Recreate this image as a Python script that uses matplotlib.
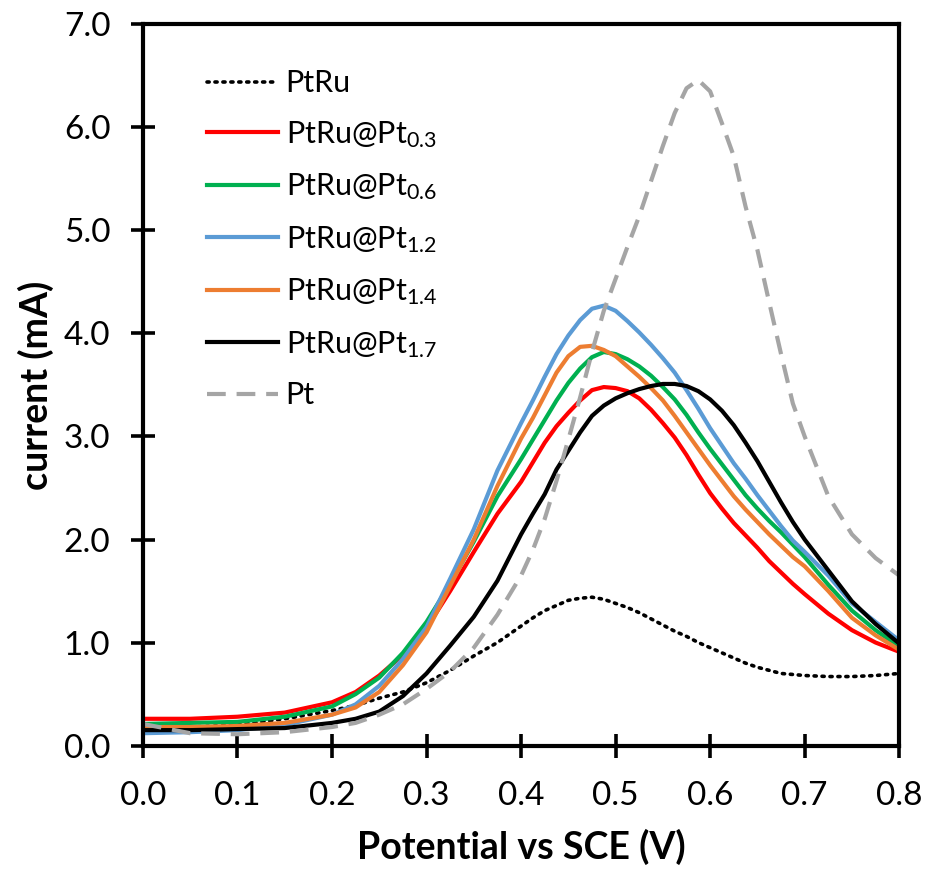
import matplotlib
matplotlib.use("Agg")
import matplotlib.pyplot as plt

plt.rcParams['font.family'] = ['Lato', 'DejaVu Sans']
plt.rcParams['mathtext.default'] = 'regular'

# potential (V) grid shared by all curves
potential = [0.0, 0.05, 0.1, 0.15, 0.2, 0.225, 0.25, 0.275, 0.3, 0.325, 0.35, 0.375,
             0.4, 0.4125, 0.425, 0.4375, 0.45, 0.4625, 0.475, 0.4875, 0.5, 0.5125,
             0.525, 0.5375, 0.55, 0.5625, 0.575, 0.5875, 0.6, 0.6125, 0.625, 0.6375,
             0.65, 0.6625, 0.675, 0.6875, 0.7, 0.725, 0.75, 0.775, 0.8]

# current (mA)
ptru = [0.17, 0.18, 0.20, 0.26, 0.34, 0.39, 0.46, 0.52, 0.61, 0.73, 0.87, 1.00,
        1.16, 1.24, 1.31, 1.36, 1.41, 1.43, 1.44, 1.42, 1.38, 1.34,
        1.29, 1.23, 1.17, 1.11, 1.06, 1.00, 0.95, 0.90, 0.85, 0.80,
        0.76, 0.73, 0.70, 0.69, 0.68, 0.67, 0.67, 0.68, 0.70]
ptru_pt03 = [0.26, 0.26, 0.28, 0.32, 0.42, 0.52, 0.68, 0.88, 1.14, 1.50, 1.88, 2.25,
             2.56, 2.75, 2.94, 3.10, 3.23, 3.35, 3.45, 3.48, 3.47, 3.44,
             3.37, 3.26, 3.13, 2.99, 2.82, 2.63, 2.45, 2.30, 2.16, 2.04,
             1.92, 1.79, 1.68, 1.57, 1.47, 1.28, 1.12, 1.00, 0.91]
ptru_pt06 = [0.21, 0.22, 0.23, 0.28, 0.38, 0.50, 0.66, 0.90, 1.20, 1.57, 1.98, 2.42,
             2.78, 2.97, 3.16, 3.35, 3.52, 3.66, 3.77, 3.82, 3.80, 3.75,
             3.68, 3.59, 3.48, 3.36, 3.21, 3.04, 2.88, 2.73, 2.58, 2.43,
             2.30, 2.18, 2.07, 1.95, 1.83, 1.56, 1.31, 1.12, 0.96]
ptru_pt12 = [0.12, 0.13, 0.15, 0.20, 0.30, 0.40, 0.58, 0.84, 1.15, 1.62, 2.10, 2.67,
             3.13, 3.35, 3.58, 3.80, 3.98, 4.13, 4.24, 4.27, 4.22, 4.12,
             4.01, 3.89, 3.76, 3.62, 3.45, 3.27, 3.08, 2.91, 2.74, 2.59,
             2.43, 2.28, 2.13, 1.99, 1.88, 1.65, 1.38, 1.20, 1.02]
ptru_pt14 = [0.18, 0.18, 0.19, 0.22, 0.30, 0.37, 0.52, 0.78, 1.10, 1.55, 2.00, 2.52,
             2.98, 3.18, 3.40, 3.62, 3.78, 3.87, 3.88, 3.84, 3.78, 3.68,
             3.58, 3.47, 3.35, 3.20, 3.04, 2.88, 2.72, 2.57, 2.42, 2.29,
             2.17, 2.05, 1.94, 1.83, 1.74, 1.50, 1.24, 1.07, 0.93]
ptru_pt17 = [0.15, 0.15, 0.16, 0.17, 0.22, 0.26, 0.33, 0.48, 0.70, 0.97, 1.25, 1.60,
             2.05, 2.25, 2.44, 2.68, 2.86, 3.04, 3.20, 3.30, 3.37, 3.42,
             3.46, 3.49, 3.51, 3.51, 3.49, 3.44, 3.36, 3.25, 3.11, 2.94,
             2.76, 2.56, 2.36, 2.17, 2.00, 1.70, 1.40, 1.18, 0.99]
pt = [0.21, 0.12, 0.11, 0.13, 0.18, 0.22, 0.30, 0.40, 0.55, 0.72, 0.95, 1.27,
      1.65, 1.90, 2.20, 2.57, 2.97, 3.38, 3.82, 4.22, 4.53, 4.84,
      5.14, 5.48, 5.82, 6.14, 6.38, 6.46, 6.35, 6.04, 5.72, 5.23,
      4.81, 4.30, 3.80, 3.32, 3.00, 2.42, 2.05, 1.82, 1.65]

fig = plt.figure(figsize=(9.28, 8.71), dpi=100)
ax = fig.add_axes([0.154, 0.144, 0.815, 0.828])

ax.plot(potential, ptru, color='black', lw=2.6, linestyle=(0, (0.6, 1.6)),
        dash_capstyle='round', label='PtRu')
ax.plot(potential, ptru_pt03, color='#FF0000', lw=3, label='PtRu@Pt$_{0.3}$')
ax.plot(potential, ptru_pt06, color='#00B050', lw=3, label='PtRu@Pt$_{0.6}$')
ax.plot(potential, ptru_pt12, color='#5B9BD5', lw=3, label='PtRu@Pt$_{1.2}$')
ax.plot(potential, ptru_pt14, color='#ED7D31', lw=3, label='PtRu@Pt$_{1.4}$')
ax.plot(potential, ptru_pt17, color='black', lw=3, label='PtRu@Pt$_{1.7}$')
ax.plot(potential, pt, color='#A5A5A5', lw=3, linestyle=(0, (4.5, 2.6)), label='Pt')

ax.set_xlim(0, 0.8)
ax.set_ylim(0, 7)
ax.set_xticks([i / 10 for i in range(9)])
ax.set_yticks(range(8))
ax.xaxis.set_major_formatter(matplotlib.ticker.FormatStrFormatter('%.1f'))
ax.yaxis.set_major_formatter(matplotlib.ticker.FormatStrFormatter('%.1f'))
ax.tick_params(direction='inout', length=17, width=2.6, labelsize=24)
ax.tick_params(axis='x', pad=17)
ax.tick_params(axis='y', pad=15)

for sp in ax.spines.values():
    sp.set_linewidth(3)

ax.set_xlabel('Potential vs SCE (V)', fontsize=27, fontweight='bold', labelpad=13)
ax.set_ylabel('current (mA)', fontsize=27, fontweight='bold', labelpad=7)

ax.legend(loc='upper left', bbox_to_anchor=(0.049, 0.976), frameon=False,
          fontsize=22, handlelength=2.3, handletextpad=0.26, labelspacing=0.71)

fig.savefig('out.png', dpi=100)
